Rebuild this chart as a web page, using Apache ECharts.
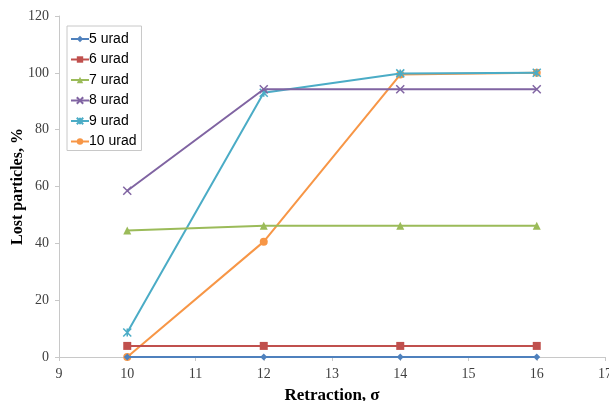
<!DOCTYPE html>
<html><head><meta charset="utf-8">
<script src="https://cdn.jsdelivr.net/npm/echarts@6/dist/echarts.min.js"></script>
<style>html,body{margin:0;padding:0;background:#fff}#c{width:609px;height:401px}</style>
</head><body><div id="c"></div>
<script>
const retraction = [10, 12, 14, 16];
const seriesNames = ['5 urad', '6 urad', '7 urad', '8 urad', '9 urad', '10 urad'];
const urad5 = [0, 0, 0, 0];
const urad6 = [3.9, 3.9, 3.9, 3.9];
const urad7 = [44.5, 46.2, 46.2, 46.2];
const urad8 = [58.5, 94.2, 94.2, 94.2];
const urad9 = [8.6, 93.0, 99.8, 100];
const urad10 = [0, 40.6, 99.4, 100];
const xTicks = [9, 10, 11, 12, 13, 14, 15, 16, 17];
const yTicks = [0, 20, 40, 60, 80, 100, 120];

const values = [urad5, urad6, urad7, urad8, urad9, urad10];
const colors = ['#4F81BD', '#C0504D', '#9BBB59', '#8064A2', '#4BACC6', '#F79646'];
const xPath = 'path://M0,0L10,10M10,0L0,10';
const starPath = 'path://M0,0L10,10M10,0L0,10M5,0L5,10';
const symbols = ['diamond', 'rect', 'triangle', xPath, starPath, 'circle'];
const sizes = [7, 8, 8, 8, 8, 8];

const chart = echarts.init(document.getElementById('c'), null, {renderer: 'canvas'});
chart.setOption({
  animation: false,
  backgroundColor: '#fff',
  grid: {left: 59, right: 4, top: 16, bottom: 44, containLabel: false, outerBoundsMode: 'none'},
  legend: {
    orient: 'vertical', left: 67, top: 26,
    data: seriesNames,
    itemWidth: 18, itemHeight: 8, itemGap: 6.5,
    padding: [6, 5, 2, 3],
    borderColor: '#c8c8c8', borderWidth: 1,
    textStyle: {fontFamily: 'Liberation Sans, Arial', fontSize: 14, color: '#000', padding: [0,0,0,-5]}
  },
  xAxis: {
    type: 'value', min: xTicks[0], max: xTicks[xTicks.length-1], interval: 1,
    name: 'Retraction, σ', nameLocation: 'middle', nameGap: 30, nameMoveOverlap: false,
    nameTextStyle: {fontFamily: 'Liberation Serif, Times New Roman', fontSize: 17, fontWeight: 'bold', color: '#000'},
    axisLine: {lineStyle: {color: '#c8c8c8', width: 1}},
    axisTick: {show: true, length: 4, lineStyle: {color: '#c8c8c8'}},
    axisLabel: {fontFamily: 'Liberation Serif, Times New Roman', fontSize: 14, color: '#404040', margin: 10},
    splitLine: {show: false}
  },
  yAxis: {
    type: 'value', min: yTicks[0], max: yTicks[yTicks.length-1], interval: 20,
    name: 'Lost particles, %', nameLocation: 'middle', nameGap: 33, nameRotate: 90, nameMoveOverlap: false,
    nameTextStyle: {fontFamily: 'Liberation Serif, Times New Roman', fontSize: 16, fontWeight: 'bold', color: '#000'},
    axisLine: {show: true, lineStyle: {color: '#c8c8c8', width: 1}},
    axisTick: {show: true, length: 4, lineStyle: {color: '#c8c8c8'}},
    axisLabel: {fontFamily: 'Liberation Serif, Times New Roman', fontSize: 14, color: '#404040', margin: 10},
    splitLine: {show: false}
  },
  series: seriesNames.map((n, i) => ({
    name: n, type: 'line',
    data: retraction.map((x, j) => [x, values[i][j]]),
    symbol: symbols[i], symbolSize: sizes[i], showSymbol: true,
    color: colors[i],
    lineStyle: {color: colors[i], width: 2},
    itemStyle: {color: colors[i], borderColor: colors[i], borderWidth: (i===3||i===4)?1.5:0},
    z: 2 + (5 - i)
  }))
});
</script></body></html>
